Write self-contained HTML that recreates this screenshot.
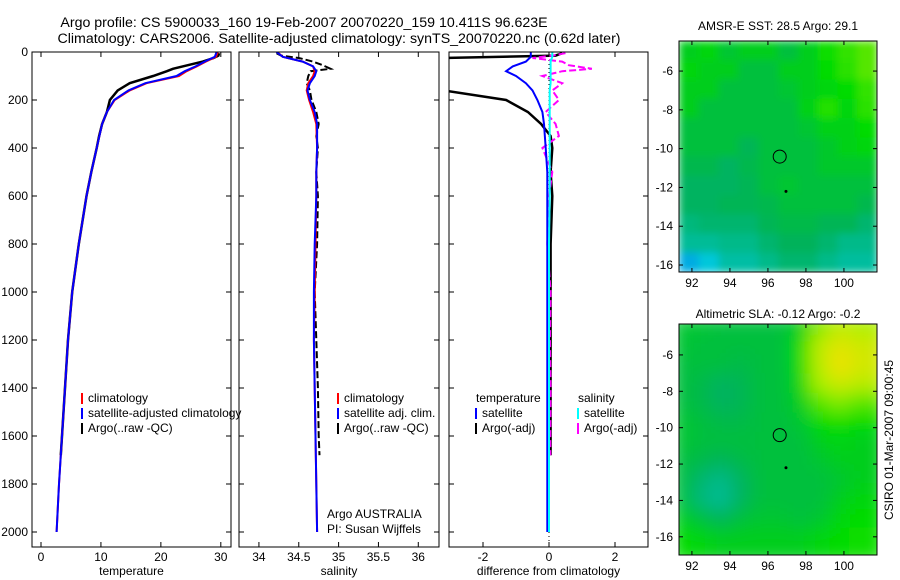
<!DOCTYPE html>
<html><head><meta charset="utf-8"><style>
html,body{margin:0;padding:0;background:#fff;}
svg{display:block;font-family:"Liberation Sans",sans-serif;}
</style></head><body>
<svg id="c" width="900" height="580" viewBox="0 0 900 580" xmlns="http://www.w3.org/2000/svg">
<text x="304" y="27" font-size="14.2" text-anchor="middle">Argo profile: CS 5900033_160 19-Feb-2007 20070220_159 10.411S 96.623E</text>
<text x="339" y="43" font-size="14.2" text-anchor="middle">Climatology: CARS2006. Satellite-adjusted climatology: synTS_20070220.nc (0.62d later)</text>
<text x="778" y="30" font-size="12" text-anchor="middle">AMSR-E SST: 28.5 Argo: 29.1</text>
<text x="778" y="318" font-size="12" text-anchor="middle">Altimetric SLA: -0.12 Argo: -0.2</text>
<text transform="translate(893,440) rotate(-90)" font-size="12" text-anchor="middle">CSIRO 01-Mar-2007 09:00:45</text>
</svg>
<script>
// ---- profile data ----
const depthClim = [0,20,40,60,80,100,130,160,200,250,300,400,500,600,800,1000,1200,1400,1600,1800,2000];
const tempClim  = [29.5,29.2,27.5,26,24.3,23,17.6,14.8,12.3,11,10.2,9.3,8.4,7.6,6.3,5.2,4.5,4.0,3.5,3.0,2.6];
const tempSat   = [29.3,29.0,27.3,25.8,24,22.6,17.4,14.6,12.2,11,10.2,9.3,8.4,7.6,6.3,5.2,4.5,4.0,3.5,3.0,2.6];
const depthArgo = [5,15,25,40,55,70,80,100,130,160,200,250,300,350,400,500,600,800,1000,1200,1400,1600,1680];
const tempArgo  = [29.7,29.6,28.8,27,24.5,22,21,18.7,14.8,12.8,11.5,11,10.2,9.7,9.3,8.4,7.6,6.3,5.2,4.5,4.0,3.5,3.3];
const salClim   = [34.23,34.3,34.55,34.68,34.7,34.68,34.62,34.6,34.63,34.68,34.72,34.73,34.72,34.72,34.71,34.7,34.69,34.7,34.71,34.72,34.73];
const salSat    = [34.22,34.3,34.55,34.68,34.72,34.7,34.64,34.61,34.64,34.7,34.73,34.73,34.72,34.72,34.7,34.69,34.69,34.7,34.71,34.72,34.73];
const salArgo   = [34.22,34.28,34.5,34.68,34.8,34.9,34.65,34.62,34.6,34.64,34.66,34.72,34.75,34.72,34.74,34.72,34.74,34.73,34.7,34.72,34.74,34.75,34.76];
const dtSat     = [-0.55,-0.55,-0.7,-1.1,-1.3,-1.0,-0.7,-0.5,-0.35,-0.2,-0.15,-0.1,-0.05,-0.05,-0.05,-0.05,-0.05,-0.05,-0.05,-0.05,-0.05];
const dtArgo    = [0.4,0.2,-3.2,-3.2,-3.2,-3.2,-3.2,-3.2,-3.2,-3.2,-1.3,-0.64,-0.24,0.05,0.1,0.05,0.1,0.05,0.05,0.05,0.05,0.05,0.05];
const dsSat     = [0.1,0.1,0.05,0.05,0.05,0.05,0.05,0.02,0.02,0.02,0.02,0.02,0.02,0.02,0,0,0,0,0,0,0];
const dsArgo    = [0.5,0.1,-0.5,0.4,0.6,1.3,0.4,-0.2,0.4,0.1,0.3,-0.1,0.2,0.3,-0.2,0.1,0.0,-0.05,0.05,0.03,0.05,0.04,0.04];
const depthTicks = [0,200,400,600,800,1000,1200,1400,1600,1800,2000];
const tempTicks = [0,10,20,30];
const salTicks = [34,34.5,35,35.5,36];
const salTickLabels = ["34","34.5","35","35.5","36"];
const diffTicks = [-2,0,2];
// ---- map data (rows north->south, cols west->east) ----
const sstGrid = [
[.55,.58,.52,.55,.55,.5,.55,.62,.66,.7],
[.58,.55,.55,.5,.5,.55,.55,.6,.65,.7],
[.55,.55,.5,.5,.5,.52,.55,.58,.6,.66],
[.55,.5,.5,.5,.5,.5,.56,.64,.58,.65],
[.5,.5,.5,.5,.5,.5,.52,.56,.56,.6],
[.5,.5,.5,.46,.5,.5,.5,.53,.56,.58],
[.47,.47,.44,.47,.5,.5,.5,.53,.53,.53],
[.44,.44,.44,.46,.5,.52,.5,.5,.5,.5],
[.44,.44,.46,.46,.47,.5,.5,.5,.5,.47],
[.4,.42,.42,.42,.46,.48,.48,.46,.46,.42],
[.36,.36,.38,.38,.42,.45,.45,.42,.38,.38],
[.18,.26,.34,.34,.38,.42,.42,.38,.35,.35]];
const slaGrid = [
[.52,.52,.5,.5,.5,.5,.55,.75,.85,.8],
[.52,.5,.5,.5,.5,.5,.6,.85,.95,.9],
[.5,.5,.5,.48,.5,.5,.6,.85,1,.92],
[.5,.48,.44,.46,.5,.5,.58,.8,.9,.85],
[.5,.48,.44,.46,.5,.5,.55,.7,.75,.7],
[.52,.5,.48,.48,.5,.5,.52,.6,.62,.6],
[.52,.5,.5,.5,.5,.5,.5,.55,.58,.55],
[.5,.48,.45,.48,.5,.5,.5,.52,.55,.55],
[.5,.42,.38,.44,.5,.5,.5,.5,.52,.55],
[.5,.4,.36,.44,.5,.5,.5,.5,.55,.58],
[.55,.5,.45,.5,.52,.52,.5,.52,.58,.6],
[.6,.58,.55,.55,.55,.55,.55,.58,.6,.62]];

const svg=document.getElementById('c');
const NS='http://www.w3.org/2000/svg';
function el(t,a,p){const e=document.createElementNS(NS,t);for(const k in a)e.setAttribute(k,a[k]);(p||svg).appendChild(e);return e;}
const TOP=52,BOT=547;
const yD=d=>TOP+d*0.24;

function panel(name,x0,x1,vmin,vmax,ticks,labels,xlabel,ylabels){
  const g=el('g',{});
  
  
  const xs=v=>x0+(v-vmin)/(vmax-vmin)*(x1-x0);
  const clip=el('clipPath',{id:'cl'+name},g);
  el('rect',{x:x0,y:TOP,width:x1-x0,height:BOT-TOP},clip);
  const plot=el('g',{'clip-path':'url(#cl'+name+')'},g);
  depthTicks.forEach(d=>{const y=yD(d);
    const t1=el('line',{x1:x0,x2:x0+5,y1:y,y2:y,stroke:'#000'},g);
    
    
    el('line',{x1:x1,x2:x1-5,y1:y,y2:y,stroke:'#000'},g);
    if(ylabels){const t=el('text',{x:x0-4,y:y+4,'font-size':12,'text-anchor':'end'},g);t.textContent=d;
      
      }
  });
  ticks.forEach((v,i)=>{const x=xs(v);
    el('line',{x1:x,x2:x,y1:TOP,y2:TOP+5,stroke:'#000'},g);
    el('line',{x1:x,x2:x,y1:BOT,y2:BOT-5,stroke:'#000'},g);
    const t=el('text',{x:x,y:BOT+14,'font-size':12,'text-anchor':'middle'},g);t.textContent=labels[i];
    
    
  });
  const r=el('rect',{x:x0,y:TOP,width:x1-x0,height:BOT-TOP,fill:'none',stroke:'#000'},g);
  
  
  const xl=el('text',{x:(x0+x1)/2,y:575,'font-size':12,'text-anchor':'middle'},g);xl.textContent=xlabel;
  
  
  return {g:plot,outer:g,xs};
}
function line(p,vals,deps,color,w,name,dash){
  const pts=vals.map((v,i)=>p.xs(v).toFixed(1)+','+yD(deps[i]).toFixed(1)).join(' ');
  const a={points:pts,fill:'none',stroke:color,'stroke-width':w};
  if(dash)a['stroke-dasharray']=dash;
  const e=el('polyline',a,p.g);
  
  
}
function legend(items,x,y,g){
  items.forEach((it,i)=>{
    if(it.c){const m=el('line',{x1:x,x2:x,y1:y+i*15-9,y2:y+i*15+2,stroke:it.c,'stroke-width':2},g);
      
      }
    const t=el('text',{x:x+(it.c?6:0),y:y+i*15,'font-size':12},g);t.textContent=it.t;
    
    
  });
}
// Panel 1
const p1=panel('temperature-panel',32,231,-1.5,31.7,tempTicks,tempTicks.map(String),'temperature',true);
line(p1,tempArgo,depthArgo,'#000',2.5,'argo-temperature-line');
line(p1,tempClim,depthClim,'#f00',2,'climatology-temperature-line');
line(p1,tempSat,depthClim,'#00f',2,'satellite-temperature-line');
legend([{t:'climatology',c:'#f00'},{t:'satellite-adjusted climatology',c:'#00f'},{t:'Argo(..raw -QC)',c:'#000'}],82,402,p1.outer);
// Panel 2
const p2=panel('salinity-panel',239,439,33.75,36.26,salTicks,salTickLabels,'salinity',false);
line(p2,salArgo,depthArgo,'#000',2,'argo-salinity-line','7,3');
line(p2,salClim,depthClim,'#f00',2,'climatology-salinity-line');
line(p2,salSat,depthClim,'#00f',2,'satellite-salinity-line');
legend([{t:'climatology',c:'#f00'},{t:'satellite adj. clim.',c:'#00f'},{t:'Argo(..raw -QC)',c:'#000'}],338,402,p2.outer);
legend([{t:'Argo AUSTRALIA'},{t:'PI: Susan Wijffels'}],327,518,p2.outer);
// Panel 3
const p3=panel('difference-panel',449,648,-3.03,3.0,diffTicks,diffTicks.map(String),'difference from climatology',false);
const zl=el('line',{x1:p3.xs(0),x2:p3.xs(0),y1:TOP,y2:BOT,stroke:'#000','stroke-dasharray':'1,3'},p3.g);


line(p3,dtArgo,depthArgo,'#000',2.5,'argo-temperature-diff-line');
line(p3,dsArgo,depthArgo,'#f0f',2,'argo-salinity-diff-line','7,3');
line(p3,dtSat,depthClim,'#00f',2,'satellite-temperature-diff-line');
line(p3,dsSat,depthClim,'#0ff',2,'satellite-salinity-diff-line');
legend([{t:'temperature'},{t:'satellite',c:'#00f'},{t:'Argo(-adj)',c:'#000'}],476,402,p3.outer);
legend([{t:'salinity'},{t:'satellite',c:'#0ff'},{t:'Argo(-adj)',c:'#f0f'}],578,402,p3.outer);

// ---- maps ----
const stops=[[0,[0,100,230]],[0.25,[0,200,225]],[0.45,[0,178,90]],[0.6,[0,220,0]],[0.8,[170,240,0]],[1,[240,225,0]]];
function cmap(v){for(let i=1;i<stops.length;i++){if(v<=stops[i][0]){const a=stops[i-1],b=stops[i];const t=(v-a[0])/(b[0]-a[0]);
  return 'rgb('+a[1].map((c,k)=>Math.round(c+(b[1][k]-c)*t)).join(',')+')';}}return 'rgb(240,225,0)';}
function map(name,grid,x0,x1,y0,y1,lon0,lon1,lat0,lat1,xt,yt,blur){
  const g=el('g',{});
  
  
  const lx=v=>x0+(v-lon0)/(lon1-lon0)*(x1-x0), ly=v=>y0+(lat0-v)/(lat0-lat1)*(y1-y0);
  const clip=el('clipPath',{id:'cm'+name},g);
  el('rect',{x:x0,y:y0,width:x1-x0,height:y1-y0},clip);
  const cg=el('g',{'clip-path':'url(#cm'+name+')'},g);
  const inner=el('g',{filter:blur?'url(#bl)':'url(#bs)'},cg);
  const R=grid.length,C=grid[0].length,cw=(x1-x0)/C,ch=(y1-y0)/R;
  grid.forEach((row,r)=>row.forEach((v,c)=>{
    const e=el('rect',{x:x0+c*cw-(blur?8:0),y:y0+r*ch-(blur?8:0),width:cw+0.6+(blur?16:0),height:ch+0.6+(blur?16:0),fill:cmap(v)},inner);
    
    
  }));
  const ci=el('circle',{cx:lx(96.62),cy:ly(-10.41),r:6.5,fill:'none',stroke:'#000'},g);
  
  
  el('circle',{cx:lx(96.95),cy:ly(-12.2),r:1.5,fill:'#000'},g);
  xt.forEach(v=>{const x=lx(v);
    el('line',{x1:x,x2:x,y1:y1,y2:y1-4,stroke:'#000'},g);el('line',{x1:x,x2:x,y1:y0,y2:y0+4,stroke:'#000'},g);
    const t=el('text',{x:x,y:y1+15,'font-size':12,'text-anchor':'middle'},g);t.textContent=v;
    
    });
  yt.forEach(v=>{const y=ly(v);
    el('line',{x1:x0,x2:x0+4,y1:y,y2:y,stroke:'#000'},g);el('line',{x1:x1,x2:x1-4,y1:y,y2:y,stroke:'#000'},g);
    const t=el('text',{x:x0-6,y:y+4,'font-size':12,'text-anchor':'end'},g);t.textContent=v;
    
    });
  el('rect',{x:x0,y:y0,width:x1-x0,height:y1-y0,fill:'none',stroke:'#000'},g);
}
const defs=el('defs',{});
const f=el('filter',{id:'bl',x:'-10%',y:'-10%',width:'120%',height:'120%'},defs);
el('feGaussianBlur',{stdDeviation:9},f);
const f2=el('filter',{id:'bs',x:'-10%',y:'-10%',width:'120%',height:'120%'},defs);
el('feGaussianBlur',{stdDeviation:4},f2);
const lonT=[92,94,96,98,100], latT=[-6,-8,-10,-12,-14,-16];
map('sst-map',sstGrid,679,877,41,272,91.32,101.74,-4.45,-16.36,lonT,latT,false);
map('sla-map',slaGrid,679,877,324,555,91.32,101.74,-4.3,-17.0,lonT,latT,true);
</script>
</body></html>
